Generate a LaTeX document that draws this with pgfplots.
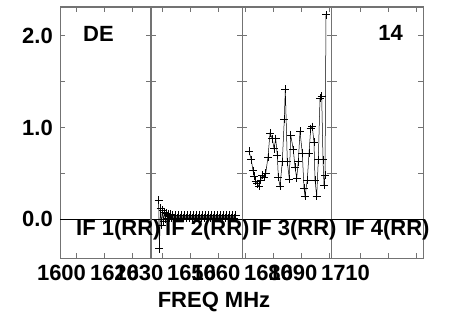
\documentclass[border=0pt]{standalone}
\usepackage{pgfplots}
\pgfplotsset{compat=1.18}
\usepackage{fontspec}
\setmainfont{Liberation Sans}
\definecolor{framegray}{gray}{0.45}
\begin{document}
\begin{tikzpicture}
\path[use as bounding box] (-60.3pt,-54.7pt) rectangle (396.7pt,258.3pt);
\begin{axis}[
  scale only axis, width=363pt, height=251.3pt,
  xmin=60.3, xmax=423.3, ymin=-0.425, ymax=2.315,
  clip=false,
  axis line style={draw=framegray, line width=1.3pt},
  xtick={81.5,134.5,159,211.5,236,288.5,313,365.5},
  xticklabels={1600,1620,1630,1650,1660,1680,1690,1710},
  xticklabel style={xshift=-20pt, yshift=-3pt},
  yticklabel style={xshift=-4pt},
  major x tick style={draw=none},
  minor xtick={76,104,132,162.3,190,218.3,245.7,273.3,301.7,329.3,360,388.3,416.7},
  ytick={0,1,2}, yticklabels={0.0,1.0,2.0},
  minor ytick={0.5,1.5},
  tick align=inside,
  major tick length=5pt, minor tick length=5pt,
  every tick/.style={framegray, line width=0.9pt},
  tick label style={font=\bfseries\fontsize{22}{26}\selectfont},
]
% zero line
\draw[black, line width=1pt] (axis cs:60.3,0) -- (axis cs:423.3,0);
% panel dividers
\draw[framegray, line width=1.5pt] (axis cs:151,-0.425) -- (axis cs:151,2.315);
\draw[framegray, line width=1.5pt] (axis cs:242.3,-0.425) -- (axis cs:242.3,2.315);
\draw[framegray, line width=1.5pt] (axis cs:331.7,-0.425) -- (axis cs:331.7,2.315);
% ticks on dividers
\draw[framegray, line width=0.9pt]
  ([xshift=-5pt]axis cs:151,0.5) -- ([xshift=5pt]axis cs:151,0.5)
  ([xshift=-5pt]axis cs:151,1) -- ([xshift=5pt]axis cs:151,1)
  ([xshift=-5pt]axis cs:151,1.5) -- ([xshift=5pt]axis cs:151,1.5)
  ([xshift=-5pt]axis cs:151,2) -- ([xshift=5pt]axis cs:151,2)
  ([xshift=-5pt]axis cs:242.3,0.5) -- ([xshift=5pt]axis cs:242.3,0.5)
  ([xshift=-5pt]axis cs:242.3,1) -- ([xshift=5pt]axis cs:242.3,1)
  ([xshift=-5pt]axis cs:242.3,1.5) -- ([xshift=5pt]axis cs:242.3,1.5)
  ([xshift=-5pt]axis cs:242.3,2) -- ([xshift=5pt]axis cs:242.3,2)
  ([xshift=-5pt]axis cs:331.7,0.5) -- ([xshift=5pt]axis cs:331.7,0.5)
  ([xshift=-5pt]axis cs:331.7,1) -- ([xshift=5pt]axis cs:331.7,1)
  ([xshift=-5pt]axis cs:331.7,1.5) -- ([xshift=5pt]axis cs:331.7,1.5)
  ([xshift=-5pt]axis cs:331.7,2) -- ([xshift=5pt]axis cs:331.7,2);
% IF 2 data
\addplot[black, line width=0.5pt, mark=+, mark size=4pt, mark options={line width=0.6pt}] coordinates {
(158.6,0.21) (159.4,-0.32) (160.5,0.12) (161.5,-0.06) (162.5,0.10) (163.5,-0.02)
(164.5,0.08) (165.5,0.00) (166.5,0.07) (167.5,0.01) (168.5,0.06) (169.5,0.01)
(170.5,0.055) (171.5,0.01)
(172.5,0.045) (174,0.015) (175.5,0.045) (177,0.015) (178.5,0.045) (180,0.015)
(181.5,0.045) (183,0.015) (184.5,0.045) (186,0.015) (187.5,0.045) (189,0.015)
(190.5,0.045) (192,0.015) (193.5,0.045) (195,0.015) (196.5,0.045) (198,0.015)
(199.5,0.045) (201,0.015) (202.5,0.045) (204,0.015) (205.5,0.045) (207,0.015)
(208.5,0.045) (210,0.015) (211.5,0.045) (213,0.015) (214.5,0.045) (216,0.015)
(217.5,0.045) (219,0.015) (220.5,0.045) (222,0.015) (223.5,0.045) (225,0.015)
(226.5,0.045) (228,0.015) (229.5,0.045) (231,0.015) (232.5,0.045) (234,0.015)
(235.5,0.045)
};
% IF 3 data
\addplot[black, line width=0.5pt, mark=+, mark size=4pt, mark options={line width=0.6pt}] coordinates {
(249.0,0.74) (251.3,0.65) (253.0,0.53) (254.0,0.47) (255.7,0.42) (257.3,0.39)
(259.0,0.36) (260.7,0.43) (262.3,0.48) (264.0,0.46) (265.7,0.50) (268.0,0.68)
(270.0,0.94) (272.3,0.88) (274.0,0.77) (275.7,0.88) (277.3,0.70) (278.3,0.46)
(280.0,0.36) (282.3,0.63) (284.3,1.09) (285.3,1.42) (287.3,0.63) (289.3,0.44)
(290.7,0.92) (293.3,0.76) (295.0,0.57) (296.7,0.45) (298.3,0.63) (300.0,0.96)
(302.3,0.72) (304.0,0.34) (305.0,0.25) (307.3,0.43) (309.0,0.72) (310.7,0.99)
(312.3,1.01) (314.0,0.84) (315.0,0.43) (316.7,0.25) (318.3,0.65) (320.0,1.32)
(321.7,1.34) (323.0,0.65) (324.0,0.37) (325.0,0.48) (326.0,2.23)
};
% texts
\node[anchor=base west, inner sep=0pt, font=\bfseries\fontsize{22}{26}\selectfont] at (axis cs:83,1.944) {DE};
\node[anchor=base east, inner sep=0pt, font=\bfseries\fontsize{22}{26}\selectfont] at (axis cs:403,1.955) {14};
\node[anchor=base west, inner sep=0pt, font=\bfseries\fontsize{22}{26}\selectfont] at (axis cs:76,-0.171) {IF 1(RR)};
\node[anchor=base west, inner sep=0pt, font=\bfseries\fontsize{22}{26}\selectfont] at (axis cs:165,-0.171) {IF 2(RR)};
\node[anchor=base west, inner sep=0pt, font=\bfseries\fontsize{22}{26}\selectfont] at (axis cs:252,-0.171) {IF 3(RR)};
\node[anchor=base west, inner sep=0pt, font=\bfseries\fontsize{22}{26}\selectfont] at (axis cs:345,-0.171) {IF 4(RR)};
\node[anchor=base, inner sep=0pt, font=\bfseries\fontsize{22}{26}\selectfont] at (axis cs:214,-0.956) {FREQ MHz};
\end{axis}
\end{tikzpicture}
\end{document}
